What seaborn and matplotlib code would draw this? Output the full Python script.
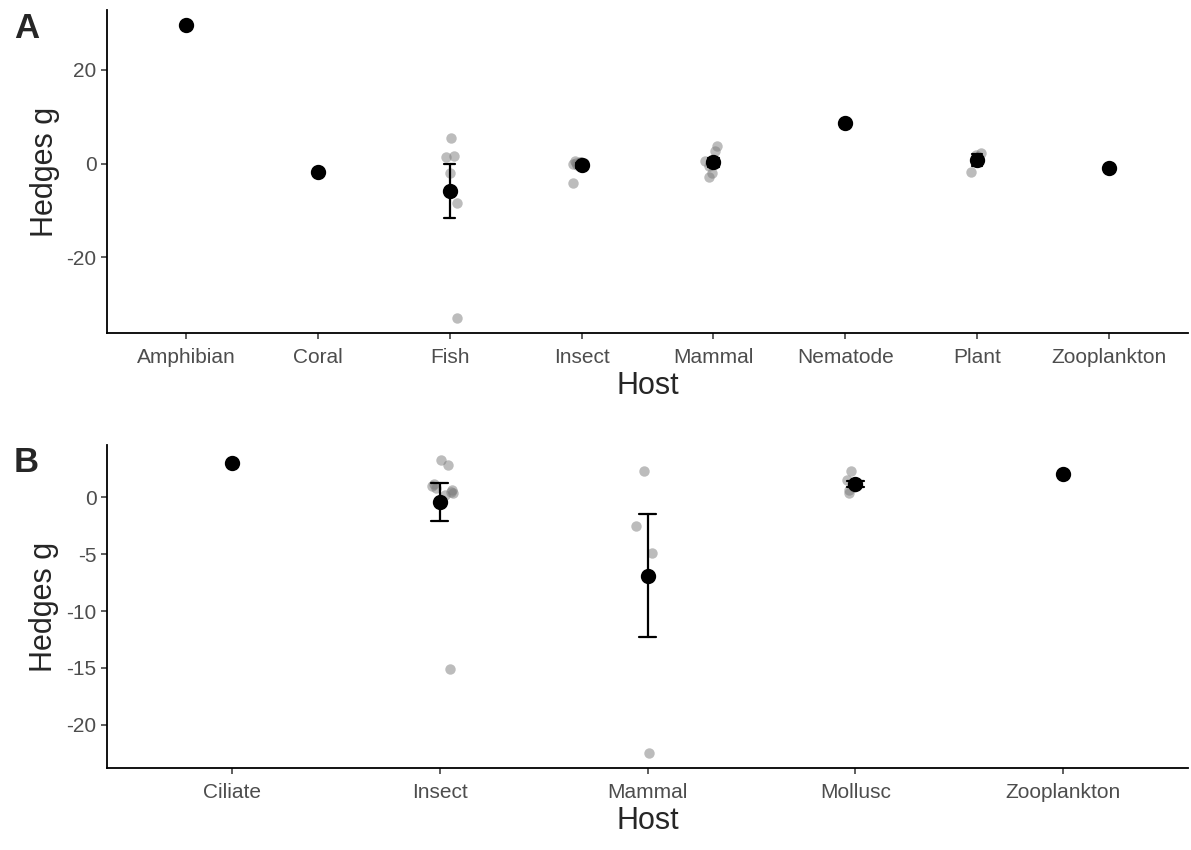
import numpy as np
import pandas as pd
import matplotlib
matplotlib.use("Agg")
import matplotlib.pyplot as plt
import seaborn as sns

# ── Data: Hedges g per host ───────────────────────────────
hosts_a = ["Amphibian", "Coral", "Fish", "Insect", "Mammal",
           "Nematode", "Plant", "Zooplankton"]
amphibian_a = [29.6]
coral_a = [-1.8]
fish_a = [5.5, 1.5, 1.4, -2.0, -8.4, -33.0]
insect_a = [0.5, 0.2, 0.0, 0.4, -4.2, 0.3, 0.1, -0.3]
mammal_a = [3.8, 2.6, 0.5, 0.0, -0.5, -2.0, -2.8]
nematode_a = [8.7]
plant_a = [2.3, 1.9, -1.75]
zooplankton_a = [-0.9]

hosts_b = ["Ciliate", "Insect", "Mammal", "Mollusc", "Zooplankton"]
ciliate_b = [3.0]
insect_b = [3.3, 2.8, 1.2, 1.0, 0.8, 0.6, 0.4, 0.2, 0.5, -15.1]
mammal_b = [2.3, -2.5, -4.9, -22.5]
mollusc_b = [2.3, 1.5, 1.2, 0.9, 0.6, 0.4]
zooplankton_b = [2.0]


def make_df(hosts, groups):
    rows = []
    for h, vals in zip(hosts, groups):
        for v in vals:
            rows.append({"Host": h, "g": v})
    return pd.DataFrame(rows)


df_a = make_df(hosts_a, [amphibian_a, coral_a, fish_a, insect_a, mammal_a,
                         nematode_a, plant_a, zooplankton_a])
df_b = make_df(hosts_b, [ciliate_b, insect_b, mammal_b, mollusc_b, zooplankton_b])

# ── Style ─────────────────────────────────────────────────
sns.set_theme(style="ticks")
plt.rcParams["font.family"] = ["Liberation Sans", "DejaVu Sans"]
plt.rcParams["axes.unicode_minus"] = False
np.random.seed(3)

W, H = 1191, 850
fig = plt.figure(figsize=(W / 100, H / 100), dpi=100)

# axes boxes in pixels: left, top, right, bottom
boxes = [(107, 10, 1188, 333), (107, 445, 1188, 768)]
panels = [("A", df_a, hosts_a, [-20, 0, 20]),
          ("B", df_b, hosts_b, [-20, -15, -10, -5, 0])]

for (l, t, r, b), (tag, df, order, yticks) in zip(boxes, panels):
    ax = fig.add_axes([l / W, 1 - b / H, (r - l) / W, (b - t) / H])
    sns.stripplot(data=df, x="Host", y="g", order=order, jitter=0.07,
                  color="#7a7a7a", alpha=0.5, size=7.5, linewidth=0, ax=ax)
    n_lines = len(ax.lines)
    sns.pointplot(data=df, x="Host", y="g", order=order, errorbar="se",
                  color="black", linestyle="none", markersize=9,
                  capsize=0.08, err_kws={"linewidth": 1.6}, ax=ax)
    # mean points and error bars on top of the raw points
    for ln in ax.lines[n_lines:]:
        ln.set_zorder(5)
    ax.set_xlim(-0.6, len(order) - 0.4)
    ax.set_yticks(yticks)
    ax.set_xlabel("Host", fontsize=22, labelpad=3)
    ax.set_ylabel("Hedges g", fontsize=22, labelpad=5)
    ax.tick_params(axis="both", labelsize=15, labelcolor="#4d4d4d",
                   color="#333333", length=4, width=1.1)
    ax.tick_params(axis="x", pad=7)
    for s in ["top", "right"]:
        ax.spines[s].set_visible(False)
    for s in ["left", "bottom"]:
        ax.spines[s].set_linewidth(1.3)
        ax.spines[s].set_color("black")
    fig.text(14 / W, 1 - (t + 18) / H, tag, fontsize=25, fontweight="bold",
             ha="left", va="center")

plt.savefig("out.png", dpi=100)
